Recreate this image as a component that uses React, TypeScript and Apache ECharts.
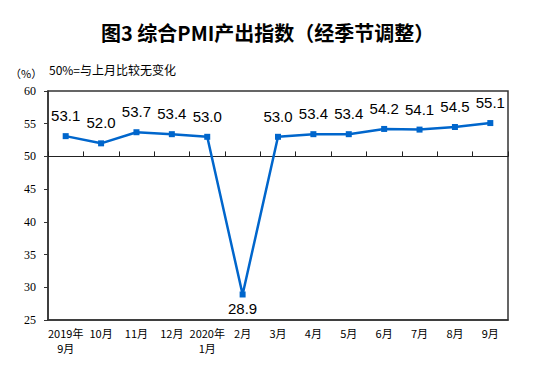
import React, { useEffect, useRef } from "react";
import * as echarts from "echarts";

const categories = ["2019年\n9月", "10月", "11月", "12月", "2020年\n1月", "2月", "3月", "4月", "5月", "6月", "7月", "8月", "9月"];
const values = [53.1, 52.0, 53.7, 53.4, 53.0, 28.9, 53.0, 53.4, 53.4, 54.2, 54.1, 54.5, 55.1];
const yTicks = { min: 25, max: 60, interval: 5 };
const titleText = "图3 综合PMI产出指数（经季节调整）";
const unitText = "（%）";
const noteText = "50%=与上月比较无变化";

export default function App() {
  const ref = useRef<HTMLDivElement>(null);
  useEffect(() => {
    const chart = echarts.init(ref.current!, null, { renderer: "svg" });
    const L = 48, T = 91, W = 460, H = 229;
    const y50 = T + (H * (yTicks.max - 50)) / (yTicks.max - yTicks.min);
    chart.setOption({
      animation: false,
      backgroundColor: "#fff",
      title: {
        text: titleText,
        left: 96,
        top: 17,
        textStyle: { fontFamily: "Noto Sans CJK SC", fontSize: 20, fontWeight: "bold", color: "#000" },
      },
      graphic: [
        { type: "text", left: 10, top: 67, style: { text: unitText, fontSize: 11, fontFamily: "Noto Sans CJK SC", fill: "#000" } },
        { type: "text", left: 49, top: 63, style: { text: noteText, fontSize: 12, fontFamily: "Noto Sans CJK SC", fill: "#000" } },
      ],
      grid: [
        { left: L, top: T, width: W, height: H, show: true, borderColor: "#333", borderWidth: 1.5, containLabel: false },
        { left: L, top: T, width: W, height: y50 - T, show: false },
      ],
      xAxis: [
        {
          type: "category",
          gridIndex: 0,
          data: categories,
          boundaryGap: true,
          axisLine: { show: true, lineStyle: { color: "#333", width: 1.5 } },
          axisTick: { show: false },
          axisLabel: {
            interval: 0,
            fontSize: 11,
            fontFamily: "Noto Sans CJK SC",
            color: "#000",
            margin: 5,
            lineHeight: 15,
          },
        },
        {
          type: "category",
          gridIndex: 1,
          data: categories,
          boundaryGap: true,
          position: "bottom",
          axisLine: { show: true, lineStyle: { color: "#222", width: 1.2 } },
          axisTick: { show: true, inside: true, length: 5, interval: 0, lineStyle: { color: "#222" } },
          axisLabel: { show: false },
        },
      ],
      yAxis: [
        {
          type: "value",
          gridIndex: 0,
          min: yTicks.min,
          max: yTicks.max,
          interval: yTicks.interval,
          axisLine: { show: true, lineStyle: { color: "#333", width: 1.5 } },
          axisTick: { show: true, length: 4, lineStyle: { color: "#333" } },
          splitLine: { show: false },
          axisLabel: { fontSize: 12, fontFamily: "Liberation Serif", color: "#000", margin: 12 },
        },
        { type: "value", gridIndex: 1, show: false, min: 0, max: 1 },
      ],
      series: [
        {
          type: "line",
          xAxisIndex: 0,
          yAxisIndex: 0,
          data: values.map((v, i) =>
            i === 5 ? { value: v, label: { position: "bottom", distance: 4 } } : v
          ),
          symbol: "rect",
          symbolSize: 6,
          lineStyle: { color: "#0066CC", width: 2.5 },
          itemStyle: { color: "#0066CC" },
          label: {
            show: true,
            position: "top",
            distance: 10,
            fontSize: 15,
            fontFamily: "Liberation Sans",
            color: "#000",
            formatter: (p: any) => Number(p.value).toFixed(1),
          },
          labelLayout: { hideOverlap: false },
          z: 5,
        },
      ],
    });
    return () => chart.dispose();
  }, []);
  return <div ref={ref} style={{ position: "fixed", left: 0, top: 0, width: 553, height: 391 }} />;
}
